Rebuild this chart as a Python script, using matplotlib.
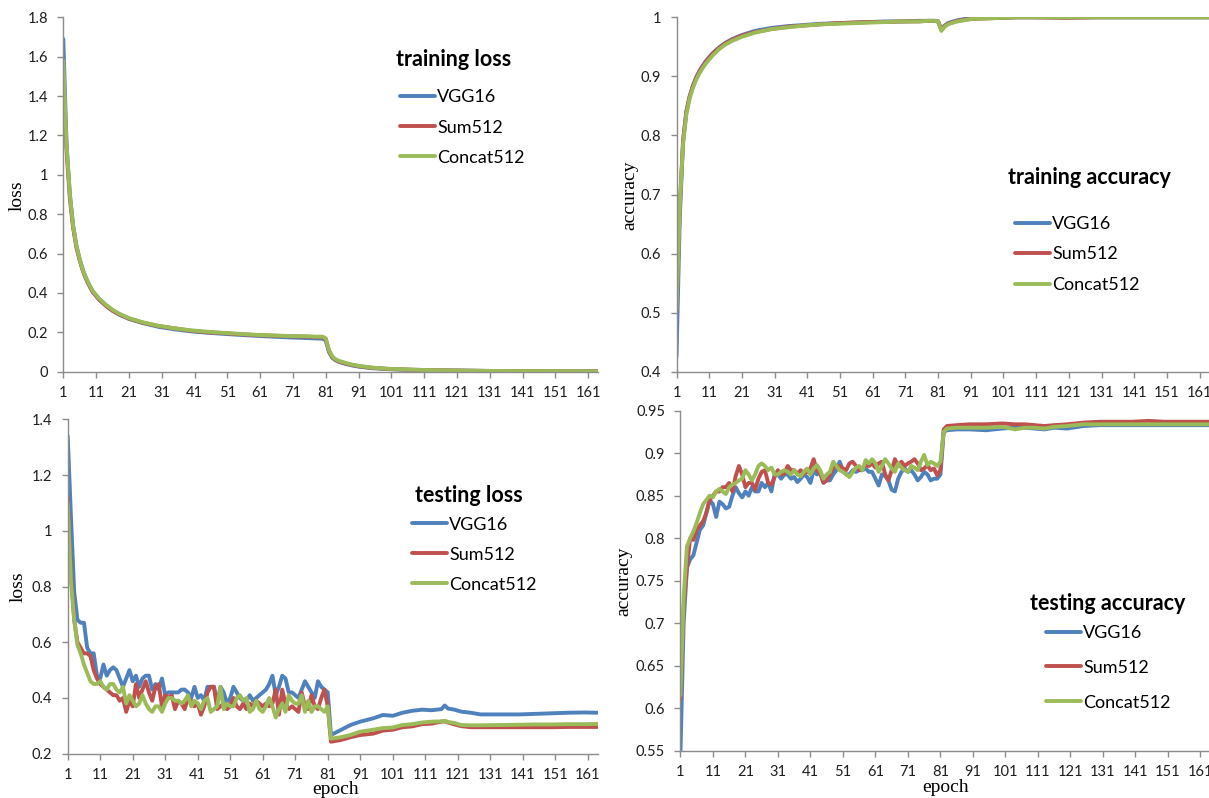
import matplotlib
matplotlib.use("Agg")
import matplotlib.pyplot as plt
import numpy as np
from matplotlib.ticker import FuncFormatter

W, H = 1209, 798
names = ["VGG16", "Sum512", "Concat512"]
colors = ["#4F81BD", "#C0504D", "#9BBB59"]

# ---- training loss / accuracy (smooth curves, sampled epochs) ----
train_epochs = [1, 2, 3, 4, 5, 6, 7, 8, 9, 10, 12, 14, 16, 18, 21, 25, 30, 35, 40, 45,
                50, 55, 60, 65, 70, 75, 78, 80, 81, 82, 83, 84, 85, 87, 89, 91, 95, 100,
                105, 110, 120, 130, 140, 150, 164]
train_loss_vgg = [1.69, 1.15, 0.90, 0.74, 0.64, 0.57, 0.515, 0.47, 0.435, 0.405, 0.365, 0.335,
                  0.31, 0.29, 0.268, 0.248, 0.228, 0.215, 0.205, 0.198, 0.192, 0.187, 0.182,
                  0.178, 0.174, 0.171, 0.169, 0.168, 0.16, 0.10, 0.07, 0.058, 0.05, 0.04,
                  0.032, 0.026, 0.018, 0.013, 0.01, 0.008, 0.006, 0.004, 0.003, 0.003, 0.002]
train_loss_sum = [1.52, 1.12, 0.88, 0.73, 0.63, 0.565, 0.51, 0.47, 0.435, 0.405, 0.365, 0.335,
                  0.31, 0.292, 0.27, 0.25, 0.232, 0.22, 0.208, 0.20, 0.196, 0.19, 0.186,
                  0.183, 0.18, 0.178, 0.176, 0.175, 0.165, 0.105, 0.075, 0.06, 0.052, 0.042,
                  0.034, 0.028, 0.02, 0.014, 0.011, 0.009, 0.006, 0.004, 0.003, 0.003, 0.002]
train_loss_cat = [1.58, 1.15, 0.90, 0.74, 0.64, 0.57, 0.515, 0.475, 0.44, 0.41, 0.37, 0.34,
                  0.315, 0.295, 0.272, 0.252, 0.233, 0.22, 0.21, 0.203, 0.197, 0.192, 0.187,
                  0.184, 0.181, 0.18, 0.178, 0.178, 0.17, 0.11, 0.078, 0.063, 0.055, 0.045,
                  0.036, 0.03, 0.021, 0.015, 0.012, 0.009, 0.006, 0.004, 0.003, 0.003, 0.002]

train_acc_vgg = [0.425, 0.66, 0.79, 0.84, 0.866, 0.884, 0.898, 0.909, 0.918, 0.926, 0.939,
                 0.949, 0.957, 0.963, 0.970, 0.977, 0.982, 0.985, 0.987, 0.989, 0.990, 0.991,
                 0.992, 0.993, 0.993, 0.994, 0.994, 0.994, 0.993, 0.980, 0.986, 0.990, 0.992,
                 0.995, 0.997, 0.998, 0.999, 0.999, 1.0, 1.0, 1.0, 1.0, 1.0, 1.0, 1.0]
train_acc_sum = [0.50, 0.68, 0.79, 0.84, 0.865, 0.883, 0.897, 0.908, 0.917, 0.925, 0.938,
                 0.948, 0.956, 0.962, 0.969, 0.975, 0.980, 0.984, 0.986, 0.988, 0.990, 0.991,
                 0.992, 0.992, 0.993, 0.993, 0.994, 0.994, 0.993, 0.979, 0.985, 0.989, 0.991,
                 0.994, 0.996, 0.997, 0.998, 0.999, 1.0, 1.0, 0.999, 1.0, 1.0, 1.0, 1.0]
train_acc_cat = [0.505, 0.68, 0.785, 0.835, 0.862, 0.880, 0.894, 0.905, 0.914, 0.922, 0.935,
                 0.946, 0.954, 0.960, 0.967, 0.974, 0.980, 0.983, 0.986, 0.988, 0.989, 0.990,
                 0.991, 0.992, 0.993, 0.993, 0.994, 0.994, 0.993, 0.977, 0.984, 0.988, 0.990,
                 0.993, 0.995, 0.997, 0.998, 0.999, 1.0, 1.0, 1.0, 1.0, 1.0, 1.0, 1.0]

# ---- testing loss ----
test_loss_epochs = list(range(1, 82)) + [82, 85, 88, 91, 95, 98, 101, 104, 107, 110, 113, 116,
                                         117, 118, 120, 122, 125, 128, 135, 140, 145, 150, 155,
                                         160, 164]
test_loss_vgg = [1.34, 1.05, 0.78, 0.68, 0.67, 0.67, 0.58, 0.56, 0.56, 0.48,
                 0.47, 0.52, 0.48, 0.50, 0.51, 0.50, 0.47, 0.44, 0.47, 0.50,
                 0.46, 0.48, 0.44, 0.47, 0.48, 0.48, 0.43, 0.45, 0.43, 0.47,
                 0.41, 0.42, 0.42, 0.42, 0.42, 0.43, 0.43, 0.42, 0.40, 0.44,
                 0.40, 0.41, 0.39, 0.44, 0.44, 0.44, 0.38, 0.44, 0.42, 0.38,
                 0.40, 0.44, 0.42, 0.40, 0.39, 0.39, 0.41, 0.39, 0.40, 0.41,
                 0.42, 0.43, 0.45, 0.48, 0.41, 0.44, 0.48, 0.47, 0.42, 0.42,
                 0.41, 0.40, 0.43, 0.46, 0.44, 0.42, 0.40, 0.46, 0.44, 0.43,
                 0.42,
                 0.267, 0.285, 0.303, 0.315, 0.327, 0.339, 0.336, 0.347, 0.354, 0.358, 0.356,
                 0.36, 0.373, 0.362, 0.358, 0.351, 0.347, 0.341, 0.341, 0.341, 0.343, 0.345,
                 0.347, 0.348, 0.347]
test_loss_sum = [1.12, 0.85, 0.68, 0.60, 0.58, 0.56, 0.56, 0.55, 0.50, 0.47,
                 0.45, 0.44, 0.43, 0.42, 0.41, 0.41, 0.39, 0.40, 0.35, 0.39,
                 0.37, 0.45, 0.40, 0.43, 0.46, 0.42, 0.39, 0.44, 0.45, 0.37,
                 0.41, 0.40, 0.41, 0.36, 0.39, 0.38, 0.36, 0.40, 0.39, 0.37,
                 0.38, 0.34, 0.37, 0.42, 0.44, 0.44, 0.36, 0.37, 0.38, 0.36,
                 0.37, 0.40, 0.37, 0.36, 0.38, 0.36, 0.38, 0.37, 0.39, 0.38,
                 0.37, 0.38, 0.37, 0.38, 0.43, 0.34, 0.43, 0.38, 0.36, 0.37,
                 0.36, 0.35, 0.42, 0.37, 0.36, 0.41, 0.37, 0.36, 0.40, 0.43,
                 0.37,
                 0.243, 0.249, 0.259, 0.267, 0.272, 0.283, 0.286, 0.295, 0.298, 0.306, 0.308,
                 0.315, 0.316, 0.312, 0.305, 0.299, 0.295, 0.295, 0.295, 0.295, 0.295, 0.295,
                 0.296, 0.296, 0.296]
test_loss_cat = [1.10, 0.82, 0.68, 0.59, 0.56, 0.52, 0.49, 0.46, 0.45, 0.45,
                 0.46, 0.44, 0.43, 0.45, 0.45, 0.43, 0.42, 0.44, 0.38, 0.41,
                 0.39, 0.37, 0.38, 0.41, 0.38, 0.36, 0.35, 0.37, 0.37, 0.35,
                 0.38, 0.40, 0.40, 0.39, 0.39, 0.38, 0.39, 0.41, 0.37, 0.39,
                 0.38, 0.36, 0.39, 0.40, 0.35, 0.36, 0.37, 0.44, 0.36, 0.38,
                 0.37, 0.37, 0.40, 0.41, 0.39, 0.40, 0.35, 0.36, 0.39, 0.36,
                 0.35, 0.37, 0.40, 0.37, 0.33, 0.36, 0.38, 0.35, 0.41, 0.39,
                 0.38, 0.38, 0.41, 0.35, 0.39, 0.35, 0.37, 0.37, 0.36, 0.35,
                 0.37,
                 0.254, 0.259, 0.267, 0.279, 0.286, 0.292, 0.294, 0.303, 0.306, 0.312, 0.315,
                 0.316, 0.318, 0.314, 0.31, 0.303, 0.302, 0.302, 0.303, 0.304, 0.305, 0.305,
                 0.306, 0.306, 0.307]

# ---- testing accuracy ----
test_acc_epochs = list(range(1, 82)) + [82, 83, 86, 90, 95, 100, 104, 107, 110, 113, 116, 120,
                                        125, 130, 135, 140, 145, 150, 155, 160, 164]
test_acc_vgg = [0.545, 0.70, 0.765, 0.775, 0.78, 0.795, 0.81, 0.815, 0.83, 0.845,
                0.84, 0.825, 0.843, 0.84, 0.835, 0.837, 0.85, 0.86, 0.853, 0.848,
                0.855, 0.85, 0.86, 0.855, 0.855, 0.865, 0.86, 0.865, 0.855, 0.875,
                0.875, 0.87, 0.875, 0.875, 0.87, 0.872, 0.866, 0.87, 0.875, 0.872,
                0.865, 0.88, 0.875, 0.878, 0.866, 0.868, 0.868, 0.875, 0.88, 0.89,
                0.88, 0.875, 0.875, 0.88, 0.878, 0.88, 0.88, 0.882, 0.878, 0.878,
                0.87, 0.862, 0.875, 0.873, 0.868, 0.857, 0.855, 0.87, 0.878, 0.882,
                0.878, 0.88, 0.875, 0.868, 0.872, 0.878, 0.875, 0.868, 0.87, 0.87,
                0.875,
                0.925, 0.927, 0.928, 0.928, 0.927, 0.929, 0.93, 0.93, 0.929, 0.928, 0.93,
                0.929, 0.932, 0.933, 0.933, 0.933, 0.933, 0.933, 0.933, 0.933, 0.933]
test_acc_sum = [0.61, 0.72, 0.765, 0.80, 0.798, 0.81, 0.815, 0.82, 0.83, 0.845,
                0.85, 0.855, 0.855, 0.86, 0.86, 0.865, 0.855, 0.873, 0.885, 0.875,
                0.86, 0.865, 0.865, 0.857, 0.87, 0.878, 0.88, 0.865, 0.863, 0.872,
                0.88, 0.875, 0.876, 0.885, 0.88, 0.88, 0.876, 0.88, 0.876, 0.878,
                0.882, 0.893, 0.88, 0.876, 0.865, 0.868, 0.875, 0.882, 0.885, 0.885,
                0.882, 0.88, 0.888, 0.89, 0.885, 0.88, 0.882, 0.886, 0.885, 0.888,
                0.883, 0.888, 0.89, 0.875, 0.868, 0.88, 0.893, 0.885, 0.89, 0.885,
                0.888, 0.89, 0.893, 0.888, 0.88, 0.882, 0.886, 0.88, 0.882, 0.874,
                0.88,
                0.928, 0.932, 0.933, 0.934, 0.934, 0.935, 0.934, 0.934, 0.933, 0.932, 0.933,
                0.934, 0.936, 0.937, 0.937, 0.937, 0.938, 0.937, 0.937, 0.937, 0.937]
test_acc_cat = [0.615, 0.73, 0.79, 0.80, 0.808, 0.818, 0.83, 0.84, 0.845, 0.85,
                0.848, 0.855, 0.858, 0.855, 0.852, 0.86, 0.863, 0.865, 0.868, 0.87,
                0.88, 0.875, 0.868, 0.875, 0.885, 0.888, 0.885, 0.88, 0.883, 0.875,
                0.875, 0.878, 0.88, 0.878, 0.875, 0.88, 0.875, 0.873, 0.878, 0.882,
                0.875, 0.882, 0.886, 0.88, 0.87, 0.875, 0.878, 0.89, 0.885, 0.88,
                0.878, 0.875, 0.872, 0.878, 0.883, 0.885, 0.88, 0.892, 0.888, 0.893,
                0.888, 0.878, 0.885, 0.893, 0.888, 0.882, 0.878, 0.888, 0.883, 0.88,
                0.878, 0.885, 0.883, 0.88, 0.89, 0.898, 0.886, 0.89, 0.888, 0.885,
                0.89,
                0.925, 0.929, 0.93, 0.93, 0.93, 0.931, 0.928, 0.93, 0.93, 0.929, 0.931,
                0.932, 0.934, 0.934, 0.934, 0.934, 0.934, 0.934, 0.934, 0.934, 0.934]

xticks = list(range(1, 162, 10))

fig = plt.figure(figsize=(W / 100, H / 100), dpi=100)


def px_axes(left, right, top, bottom):
    # axes box given in image pixels
    return fig.add_axes([left / W, 1 - bottom / H, (right - left) / W, (bottom - top) / H])


def style(ax, ylo, yhi, ystep):
    ax.set_xlim(1, 164)
    ax.set_ylim(ylo, yhi)
    ax.set_xticks(xticks)
    ax.set_yticks(np.round(np.arange(ylo, yhi + ystep / 2, ystep), 2))
    ax.yaxis.set_major_formatter(FuncFormatter(lambda v, p: f"{round(v, 2):g}"))
    for s in ["top", "right"]:
        ax.spines[s].set_visible(False)
    for s in ["left", "bottom"]:
        ax.spines[s].set_color("#8c8c8c")
        ax.spines[s].set_linewidth(1.0)
    ax.tick_params(direction="out", length=4, width=1, color="#8c8c8c",
                   labelsize=10.5, labelcolor="#1e1e1e")
    ax.tick_params(axis="x", pad=6)
    ax.tick_params(axis="y", pad=7)
    for lab in ax.get_xticklabels() + ax.get_yticklabels():
        lab.set_family("Lato")
    ax.patch.set_alpha(0)


def draw(ax, epochs, series):
    for vals, c, n in zip(series, colors, names):
        ax.plot(epochs, vals, color=c, lw=2.8, label=n, solid_joinstyle="round",
                solid_capstyle="round")


def legend(ax, title, tx, ty, lx, ly, spacing):
    fig.text(tx / W, 1 - ty / H, title, family="Lato", fontweight="bold", fontsize=15.5,
             ha="left", va="center")
    ax.legend(loc="upper left", bbox_to_anchor=(lx / W, 1 - ly / H),
              bbox_transform=fig.transFigure, frameon=False, borderpad=0,
              borderaxespad=0, handlelength=1.95, handletextpad=0.12,
              labelspacing=spacing, prop={"family": "Lato", "size": 13})


def ylabel(text, x, y):
    fig.text(x / W, 1 - y / H, text, rotation=90, family="Liberation Serif",
             fontsize=14, ha="center", va="center")


# top-left: training loss
ax1 = px_axes(63.3, 598, 17.3, 371.7)
draw(ax1, train_epochs, [train_loss_vgg, train_loss_sum, train_loss_cat])
style(ax1, 0, 1.8, 0.2)
legend(ax1, "training loss", 396, 60, 400, 89.5, 0.78)
ylabel("loss", 17, 196)

# top-right: training accuracy
ax2 = px_axes(676.5, 1209.5, 17.3, 371.7)
draw(ax2, train_epochs, [train_acc_vgg, train_acc_sum, train_acc_cat])
style(ax2, 0.4, 1.0, 0.1)
legend(ax2, "training accuracy", 1008, 178, 1015, 216, 0.8)
ylabel("accuracy", 630, 195)

# bottom-left: testing loss
ax3 = px_axes(67.7, 597.5, 419.3, 753.7)
draw(ax3, test_loss_epochs, [test_loss_vgg, test_loss_sum, test_loss_cat])
style(ax3, 0.2, 1.4, 0.2)
legend(ax3, "testing loss", 415, 495, 412, 516.5, 0.78)
ylabel("loss", 18, 587)
fig.text(336 / W, 1 - 790 / H, "epoch", family="Liberation Serif", fontsize=14,
         ha="center", va="center")

# bottom-right: testing accuracy
ax4 = px_axes(680.4, 1210.2, 410.7, 750.7)
draw(ax4, test_acc_epochs, [test_acc_vgg, test_acc_sum, test_acc_cat])
style(ax4, 0.55, 0.95, 0.05)
legend(ax4, "testing accuracy", 1030, 603, 1046, 625, 1.04)
ylabel("accuracy", 624, 581)
fig.text(946 / W, 1 - 787 / H, "epoch", family="Liberation Serif", fontsize=14,
         ha="center", va="center")

fig.savefig("out.png", dpi=100)
